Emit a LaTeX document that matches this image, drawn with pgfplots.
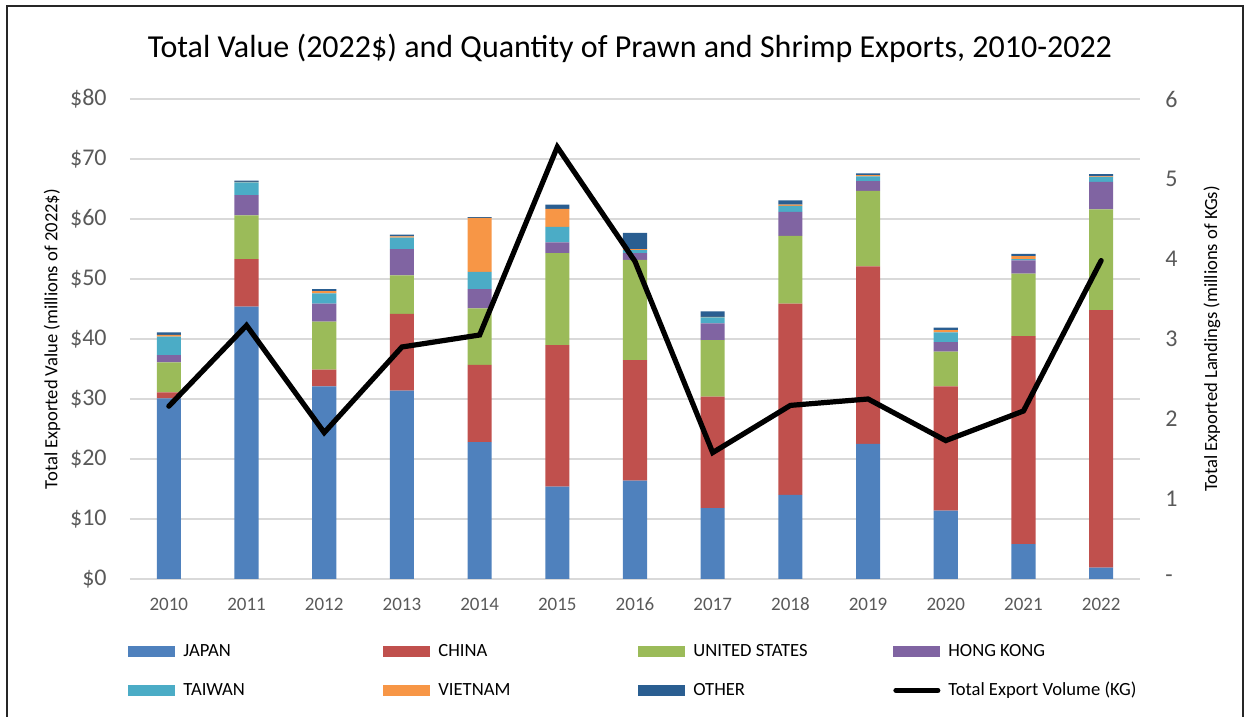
\documentclass[border=0pt]{standalone}
\usepackage{pgfplots}
\pgfplotsset{compat=1.18}
\usepackage{pgfplotstable}
\usepackage{fontspec}
\setmainfont{Carlito}
\definecolor{cJapan}{HTML}{4F81BD}
\definecolor{cChina}{HTML}{C0504D}
\definecolor{cUS}{HTML}{9BBB59}
\definecolor{cHK}{HTML}{8064A2}
\definecolor{cTW}{HTML}{4BACC6}
\definecolor{cVN}{HTML}{F79646}
\definecolor{cOther}{HTML}{2A5E91}
\definecolor{gridgray}{HTML}{D9D9D9}
\definecolor{ticktext}{HTML}{595959}
\pgfplotsset{
  swatch/.style={legend image code/.code={\fill[##1] (0pt,-2.75pt) rectangle (23.5pt,2.75pt);}},
}
\pgfplotstableread{
x Japan China US HK Taiwan Vietnam Other Volume
0 30.1 1.0 5.0 1.2 3.1 0.3 0.4 2.16
1 45.4 7.9 7.3 3.4 2.1 0.1 0.2 3.17
2 32.1 2.8 8.0 3.0 1.7 0.4 0.3 1.83
3 31.4 12.8 6.4 4.4 1.9 0.2 0.3 2.90
4 22.8 12.9 9.4 3.2 2.9 9.0 0.1 3.05
5 15.4 23.6 15.3 1.8 2.6 3.0 0.7 5.40
6 16.4 20.1 16.7 1.1 0.5 0.2 2.7 3.97
7 11.8 18.6 9.4 2.8 1.0 0.1 0.9 1.58
8 14.0 31.9 11.3 4.0 1.0 0.2 0.7 2.17
9 22.5 29.6 12.6 1.6 0.8 0.2 0.3 2.25
10 11.4 20.7 5.8 1.6 1.6 0.4 0.4 1.73
11 5.8 34.7 10.4 2.2 0.2 0.5 0.4 2.10
12 1.9 42.9 16.8 4.6 0.8 0.1 0.4 3.98
}\datatable
\newcommand{\lt}[1]{\makebox[100pt][l]{#1}}
\begin{document}
\begin{tikzpicture}
\useasboundingbox (0pt,0pt) rectangle (625pt,358.5pt);
\draw[line width=1pt, black!85] (3.5pt,-5pt) rectangle (621.5pt,355.5pt);
\begin{axis}[
  at={(65pt,69pt)}, anchor=south west,
  scale only axis, width=505pt, height=240pt,
  ybar stacked, bar width=0.31,
  xmin=-0.5, xmax=12.5, ymin=0, ymax=80,
  xtick={0,...,12},
  xticklabels={2010,2011,2012,2013,2014,2015,2016,2017,2018,2019,2020,2021,2022},
  ytick={0,10,...,80},
  yticklabel={\$\pgfmathprintnumber{\tick}},
  /pgf/number format/assume math mode=true,
  axis line style={draw=none},
  major tick length=0pt,
  ymajorgrids, grid style={gridgray, line width=0.8pt},
  yticklabel style={font=\fontsize{12}{14}\selectfont, text=ticktext, anchor=east, inner sep=0pt, xshift=-11.5pt},
  xticklabel style={font=\fontsize{9.5}{11}\selectfont, text=ticktext, anchor=center, inner sep=0pt, yshift=-12.5pt},
  ylabel={Total Exported Value (millions of 2022\$)},
  every axis y label/.style={at={(axis description cs:-0.0772,0.5)}, rotate=90, anchor=center, font=\fontsize{9.3}{11}\selectfont},
  title={Total Value (2022\$) and Quantity of Prawn and Shrimp Exports, 2010-2022},
  every axis title/.style={at={(axis description cs:0.495,1.106)}, anchor=center, font=\fontsize{16}{19}\selectfont},
  legend columns=4,
  legend cell align=left,
  legend style={at={(axis description cs:-0.00198,-0.13125)}, anchor=north west, draw=none, fill=none,
    inner sep=0pt, column sep=0pt, row sep=10.5pt,
    nodes={inner sep=0pt, text height=7pt, text depth=2pt},
    font=\fontsize{9.3}{11}\selectfont,
    /tikz/every odd column/.append style={column sep=4pt}},
]
\addplot[fill=cJapan, draw=none, swatch] table[x=x,y=Japan]{\datatable};
\addlegendentry{\lt{JAPAN}}
\addplot[fill=cChina, draw=none, swatch] table[x=x,y=China]{\datatable};
\addlegendentry{\lt{CHINA}}
\addplot[fill=cUS, draw=none, swatch] table[x=x,y=US]{\datatable};
\addlegendentry{\lt{UNITED STATES}}
\addplot[fill=cHK, draw=none, swatch] table[x=x,y=HK]{\datatable};
\addlegendentry{\lt{HONG KONG}}
\addplot[fill=cTW, draw=none, swatch] table[x=x,y=Taiwan]{\datatable};
\addlegendentry{\lt{TAIWAN}}
\addplot[fill=cVN, draw=none, swatch] table[x=x,y=Vietnam]{\datatable};
\addlegendentry{\lt{VIETNAM}}
\addplot[fill=cOther, draw=none, swatch] table[x=x,y=Other]{\datatable};
\addlegendentry{\lt{OTHER}}
\addlegendimage{legend image code/.code={\draw[black, line width=2.5pt, line cap=round] (1.25pt,0pt) -- (22.25pt,0pt);}}
\addlegendentry{Total Export Volume (KG)}
\end{axis}
\begin{axis}[
  at={(65pt,69pt)}, anchor=south west,
  scale only axis, width=505pt, height=240pt,
  xmin=-0.5, xmax=12.5, ymin=0, ymax=6,
  axis y line*=right, axis x line=none,
  axis line style={draw=none},
  major tick length=0pt,
  ytick={0,1,...,6}, yticklabels={-,1,2,3,4,5,6},
  yticklabel style={font=\fontsize{12}{14}\selectfont, text=ticktext, anchor=west, inner sep=0pt, xshift=12.5pt},
  ylabel={Total Exported Landings (millions of KGs)},
  every axis y label/.style={at={(axis description cs:1.0713,0.5)}, rotate=90, anchor=center, font=\fontsize{9.3}{11}\selectfont},
]
\addplot[black, line width=2.6pt, line cap=round, mark=none] table[x=x,y=Volume]{\datatable};
\end{axis}
\end{tikzpicture}
\end{document}
